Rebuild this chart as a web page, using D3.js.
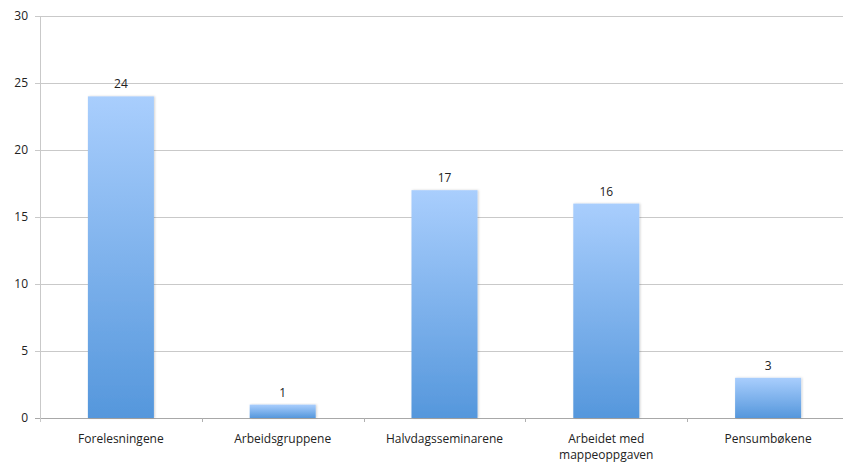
<!DOCTYPE html>
<html>
<head>
<meta charset="utf-8">
<script src="https://cdn.jsdelivr.net/npm/d3@7"></script>
<style>
  body { margin: 0; background: #fff; overflow: hidden; }
  svg text { font-family: "Open Sans", "DejaVu Sans", sans-serif; fill: #222; }
</style>
</head>
<body>
<svg id="chart" width="843" height="465"></svg>
<script>
// dati
const categorie = ["Forelesningene", "Arbeidsgruppene", "Halvdagsseminarene", "Arbeidet med\nmappeoppgaven", "Pensumbøkene"];
const valori    = [24, 1, 17, 16, 3];
const yTicks    = [0, 5, 10, 15, 20, 25, 30];

const WIDTH = 843, HEIGHT = 465;
const PLOT_RIGHT = 849; // l'area del grafico esce leggermente dalla finestra
const margin = { top: 16, bottom: 47, left: 40 };

const svg = d3.select("#chart");

const x = d3.scaleBand()
  .domain(categorie)
  .range([margin.left, PLOT_RIGHT])
  .paddingInner(0.592)
  .paddingOuter(0.296);

const y = d3.scaleLinear()
  .domain([0, 30])
  .range([HEIGHT - margin.bottom, margin.top]);

/* ── gradiente barre ── */
const defs = svg.append("defs");
const grad = defs.append("linearGradient")
  .attr("id", "barGrad")
  .attr("x1", 0).attr("y1", 0).attr("x2", 0).attr("y2", 1);
grad.append("stop").attr("offset", "0%").attr("stop-color", "#a9cefd");
grad.append("stop").attr("offset", "100%").attr("stop-color", "#5597dc");

const shadow = defs.append("filter").attr("id", "ombra")
  .attr("x", "-10%").attr("y", "-10%").attr("width", "130%").attr("height", "130%");
shadow.append("feDropShadow")
  .attr("dx", 1).attr("dy", 0).attr("stdDeviation", 1)
  .attr("flood-color", "#000").attr("flood-opacity", 0.18);

/* ── griglia ── */
svg.append("g")
  .selectAll("line")
  .data(yTicks)
  .join("line")
  .attr("x1", margin.left - 5)
  .attr("x2", PLOT_RIGHT)
  .attr("y1", d => Math.round(y(d)) + 0.5)
  .attr("y2", d => Math.round(y(d)) + 0.5)
  .attr("stroke", d => d === 0 ? "#a8a8a8" : "#c9c9c9")
  .attr("stroke-width", 1);

svg.append("g")
  .selectAll("text")
  .data(yTicks)
  .join("text")
  .attr("x", margin.left - 12)
  .attr("y", d => y(d))
  .attr("dy", "0.35em")
  .attr("text-anchor", "end")
  .attr("font-size", 12)
  .text(d => d);

// asse verticale
svg.append("line")
  .attr("x1", margin.left + 0.5).attr("x2", margin.left + 0.5)
  .attr("y1", y(30)).attr("y2", y(0) + 4)
  .attr("stroke", "#c9c9c9");

// tacche tra categorie
svg.append("g")
  .selectAll("line")
  .data(categorie.slice(1))
  .join("line")
  .attr("x1", d => Math.round(x(d) - x.step() * x.paddingOuter()) + 0.5)
  .attr("x2", d => Math.round(x(d) - x.step() * x.paddingOuter()) + 0.5)
  .attr("y1", y(0))
  .attr("y2", y(0) + 4)
  .attr("stroke", "#b0b0b0");

/* ── barre ── */
svg.append("g")
  .selectAll("rect")
  .data(valori)
  .join("rect")
  .attr("x", (d, i) => x(categorie[i]))
  .attr("y", d => y(d))
  .attr("width", x.bandwidth())
  .attr("height", d => y(0) - y(d))
  .attr("fill", "url(#barGrad)")
  .attr("filter", "url(#ombra)");

// etichette valori
svg.append("g")
  .selectAll("text")
  .data(valori)
  .join("text")
  .attr("x", (d, i) => x(categorie[i]) + x.bandwidth() / 2)
  .attr("y", d => y(d) - 8)
  .attr("text-anchor", "middle")
  .attr("font-size", 12)
  .text(d => d);

// etichette categorie
const cat = svg.append("g")
  .selectAll("text")
  .data(categorie)
  .join("text")
  .attr("x", d => x(d) + x.bandwidth() / 2)
  .attr("y", y(0) + 25)
  .attr("text-anchor", "middle")
  .attr("font-size", 12);

cat.selectAll("tspan")
  .data(d => d.split("\n"))
  .join("tspan")
  .attr("x", function() { return d3.select(this.parentNode).attr("x"); })
  .attr("dy", (d, i) => i === 0 ? 0 : "1.35em")
  .text(d => d);
</script>
</body>
</html>
